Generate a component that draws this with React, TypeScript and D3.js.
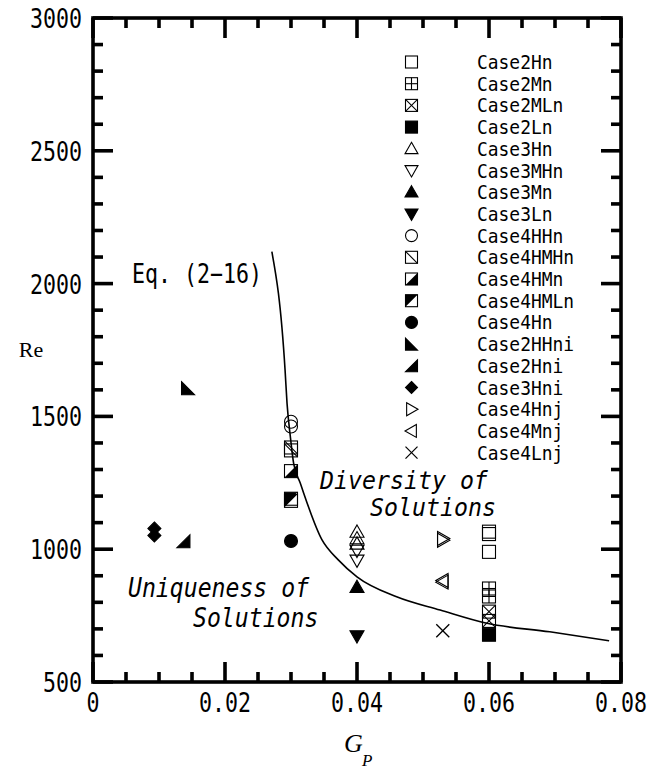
import React from "react";
import * as d3 from "d3";

const W = 651;
const H = 769;
const PLOT = { left: 93, right: 621, top: 18, bottom: 682 };

// Axis ticks and labels
const xMajorTicks = [0, 0.02, 0.04, 0.06, 0.08];
const xTickLabels = ["0", "0.02", "0.04", "0.06", "0.08"];
const yMajorTicks = [500, 1000, 1500, 2000, 2500, 3000];
const yTickLabels = ["500", "1000", "1500", "2000", "2500", "3000"];

// Cases: legend order, marker shape, Gp column and measured Re values
const caseNames = [
  "Case2Hn", "Case2Mn", "Case2MLn", "Case2Ln",
  "Case3Hn", "Case3MHn", "Case3Mn", "Case3Ln",
  "Case4HHn", "Case4HMHn", "Case4HMn", "Case4HMLn", "Case4Hn",
  "Case2HHni", "Case2Hni", "Case3Hni",
  "Case4Hnj", "Case4Mnj", "Case4Lnj",
];
const caseMarkers = [
  "sq", "sqPlus", "sqX", "sqFill",
  "triUp", "triDown", "triUpFill", "triDownFill",
  "circle", "sqDiag", "sqLowerRight", "sqUpperLeft", "circleFill",
  "rtLowerLeft", "rtLowerRight", "diamond",
  "triRight", "triLeft", "cross",
];
const caseGp = [
  0.06, 0.06, 0.06, 0.06,
  0.04, 0.04, 0.04, 0.04,
  0.03, 0.03, 0.03, 0.03, 0.03,
  0.0144, 0.0137, 0.0093,
  0.053, 0.053, 0.053,
];
const caseRe = [
  [1066, 1057, 990], [852, 822], [765, 730], [678],
  [1065, 1040, 1020], [995, 958], [857], [673],
  [1480, 1462], [1383, 1372], [1294], [1190, 1182], [1031],
  [1606], [1030], [1078, 1052],
  [1040, 1034], [882, 876], [693],
];

// Eq. (2-16) boundary curve
const eqGp = [0.0271, 0.0291, 0.0294, 0.0299, 0.0304, 0.0314, 0.0347, 0.0372, 0.04, 0.046, 0.0526, 0.0597, 0.0692, 0.0782];
const eqRe = [2120, 1675, 1549, 1424, 1323, 1249, 1035, 959, 896, 821, 771, 721, 689, 655];

const MONO = "'DejaVu Sans Mono', monospace";
const SERIF = "'Liberation Serif', 'Times New Roman', serif";

function Txt({ x, y, size, sx = 1, anchor = "start", family = MONO, italic = false, children }: any) {
  return (
    <g transform={`translate(${x},${y}) scale(${sx},1)`}>
      <text x={0} y={0} fontSize={size} fontFamily={family} fontStyle={italic ? "italic" : "normal"} textAnchor={anchor} fill="#000">
        {children}
      </text>
    </g>
  );
}

function Marker({ kind, cx, cy, r }: any) {
  const sw = 1.1;
  const st = { stroke: "#000", strokeWidth: sw };
  const box = <rect x={cx - r} y={cy - r} width={2 * r} height={2 * r} fill="none" {...st} />;
  const L = cx - r, R = cx + r, T = cy - r, B = cy + r;
  const tr = r * 1.08;
  switch (kind) {
    case "sq":
      return box;
    case "sqPlus":
      return (
        <g>
          {box}
          <line x1={cx} y1={T} x2={cx} y2={B} {...st} />
          <line x1={L} y1={cy} x2={R} y2={cy} {...st} />
        </g>
      );
    case "sqX":
      return (
        <g>
          {box}
          <line x1={L} y1={T} x2={R} y2={B} {...st} />
          <line x1={R} y1={T} x2={L} y2={B} {...st} />
        </g>
      );
    case "sqFill":
      return <rect x={L} y={T} width={2 * r} height={2 * r} fill="#000" {...st} />;
    case "sqDiag":
      return (
        <g>
          {box}
          <line x1={L} y1={T} x2={R} y2={B} {...st} />
        </g>
      );
    case "sqLowerRight":
      return (
        <g>
          <polygon points={`${R},${T} ${R},${B} ${L},${B}`} fill="#000" />
          {box}
        </g>
      );
    case "sqUpperLeft":
      return (
        <g>
          <polygon points={`${L},${T} ${R},${T} ${L},${B}`} fill="#000" />
          {box}
        </g>
      );
    case "triUp":
    case "triUpFill":
      return (
        <polygon
          points={`${cx},${cy - tr} ${cx + tr},${cy + tr * 0.75} ${cx - tr},${cy + tr * 0.75}`}
          fill={kind === "triUpFill" ? "#000" : "none"}
          {...st}
        />
      );
    case "triDown":
    case "triDownFill":
      return (
        <polygon
          points={`${cx},${cy + tr} ${cx + tr},${cy - tr * 0.75} ${cx - tr},${cy - tr * 0.75}`}
          fill={kind === "triDownFill" ? "#000" : "none"}
          {...st}
        />
      );
    case "triRight":
      return (
        <polygon points={`${cx + tr},${cy} ${cx - tr * 0.75},${cy - tr} ${cx - tr * 0.75},${cy + tr}`} fill="none" {...st} />
      );
    case "triLeft":
      return (
        <polygon points={`${cx - tr},${cy} ${cx + tr * 0.75},${cy - tr} ${cx + tr * 0.75},${cy + tr}`} fill="none" {...st} />
      );
    case "circle":
      return <circle cx={cx} cy={cy} r={r} fill="none" {...st} />;
    case "circleFill":
      return <circle cx={cx} cy={cy} r={r} fill="#000" {...st} />;
    case "rtLowerLeft":
      return <polygon points={`${L},${T} ${R},${B} ${L},${B}`} fill="#000" {...st} />;
    case "rtLowerRight":
      return <polygon points={`${R},${T} ${R},${B} ${L},${B}`} fill="#000" {...st} />;
    case "diamond":
      return <polygon points={`${cx},${cy - r} ${cx + r},${cy} ${cx},${cy + r} ${cx - r},${cy}`} fill="#000" {...st} />;
    case "cross":
      return (
        <g>
          <line x1={L} y1={T} x2={R} y2={B} {...st} strokeWidth={1.3} />
          <line x1={R} y1={T} x2={L} y2={B} {...st} strokeWidth={1.3} />
        </g>
      );
    default:
      return null;
  }
}

export default function App() {
  const x = d3.scaleLinear().domain([0, 0.08]).range([PLOT.left, PLOT.right]);
  const y = d3.scaleLinear().domain([500, 3000]).range([PLOT.bottom, PLOT.top]);

  const xMinor = d3.range(0, 0.08 + 1e-9, 0.005).filter((v) => !xMajorTicks.some((m) => Math.abs(m - v) < 1e-9));
  const yMinor = d3.range(500, 3001, 100).filter((v) => !yMajorTicks.includes(v));

  const eqLine = d3
    .line<number>()
    .x((_, i) => x(eqGp[i]))
    .y((d) => y(d))
    .curve(d3.curveMonotoneX);

  const axisW = 3.6;
  const majorLen = 20;
  const minorLen = 10;

  const legendX = 411.5;
  const legendTextX = 477;
  const legendY0 = 62;
  const legendStep = 21.7;

  return (
    <svg width={W} height={H} style={{ position: "absolute", left: 0, top: 0, background: "#fff" }}>
      <rect x={0} y={0} width={W} height={H} fill="#fff" />

      {/* ticks on all four sides, pointing inward */}
      <g stroke="#000" strokeWidth={axisW}>
        {xMajorTicks.map((v) => (
          <g key={"xM" + v}>
            <line x1={x(v)} x2={x(v)} y1={PLOT.bottom} y2={PLOT.bottom - majorLen} />
            <line x1={x(v)} x2={x(v)} y1={PLOT.top} y2={PLOT.top + majorLen} />
          </g>
        ))}
        {xMinor.map((v) => (
          <g key={"xm" + v}>
            <line x1={x(v)} x2={x(v)} y1={PLOT.bottom} y2={PLOT.bottom - minorLen} />
            <line x1={x(v)} x2={x(v)} y1={PLOT.top} y2={PLOT.top + minorLen} />
          </g>
        ))}
        {yMajorTicks.map((v) => (
          <g key={"yM" + v}>
            <line x1={PLOT.left} x2={PLOT.left + majorLen} y1={y(v)} y2={y(v)} />
            <line x1={PLOT.right} x2={PLOT.right - majorLen} y1={y(v)} y2={y(v)} />
          </g>
        ))}
        {yMinor.map((v) => (
          <g key={"ym" + v}>
            <line x1={PLOT.left} x2={PLOT.left + minorLen} y1={y(v)} y2={y(v)} />
            <line x1={PLOT.right} x2={PLOT.right - minorLen} y1={y(v)} y2={y(v)} />
          </g>
        ))}
      </g>

      {/* frame */}
      <rect
        x={PLOT.left}
        y={PLOT.top}
        width={PLOT.right - PLOT.left}
        height={PLOT.bottom - PLOT.top}
        fill="none"
        stroke="#000"
        strokeWidth={axisW}
      />

      {/* tick labels */}
      {xMajorTicks.map((v, i) => (
        <Txt key={"xl" + v} x={x(v)} y={712} size={27} sx={0.8} anchor="middle">
          {xTickLabels[i]}
        </Txt>
      ))}
      {yMajorTicks.map((v, i) => (
        <Txt key={"yl" + v} x={82} y={y(v) + 10} size={27} sx={0.8} anchor="end">
          {yTickLabels[i]}
        </Txt>
      ))}

      {/* axis titles */}
      <text x={31} y={357} fontSize={22} fontFamily={SERIF} textAnchor="middle">Re</text>
      <text x={344} y={752} fontSize={26} fontFamily={SERIF} fontStyle="italic">G</text>
      <text x={362} y={766} fontSize={17} fontFamily={SERIF} fontStyle="italic">P</text>

      {/* Eq. (2-16) boundary */}
      <path d={eqLine(eqRe) || ""} fill="none" stroke="#000" strokeWidth={1.6} />
      <Txt x={262} y={283} size={27} sx={0.8} anchor="end">Eq. (2−16)</Txt>

      {/* region annotations */}
      <Txt x={320} y={489} size={25} sx={0.93} italic>Diversity of</Txt>
      <Txt x={370} y={516} size={25} sx={0.93} italic>Solutions</Txt>
      <Txt x={128} y={597} size={26} sx={0.89} italic>Uniqueness of</Txt>
      <Txt x={193} y={627} size={26} sx={0.89} italic>Solutions</Txt>

      {/* data points */}
      {caseNames.map((name, ci) =>
        caseRe[ci].map((re, j) => (
          <Marker key={name + j} kind={caseMarkers[ci]} cx={x(caseGp[ci])} cy={y(re)} r={6.5} />
        ))
      )}

      {/* legend */}
      {caseNames.map((name, i) => {
        const ly = legendY0 + i * legendStep;
        return (
          <g key={"lg" + name}>
            <Marker kind={caseMarkers[i]} cx={legendX} cy={ly} r={6} />
            <Txt x={legendTextX} y={ly + 7} size={19.5} sx={0.92}>
              {name}
            </Txt>
          </g>
        );
      })}
    </svg>
  );
}
